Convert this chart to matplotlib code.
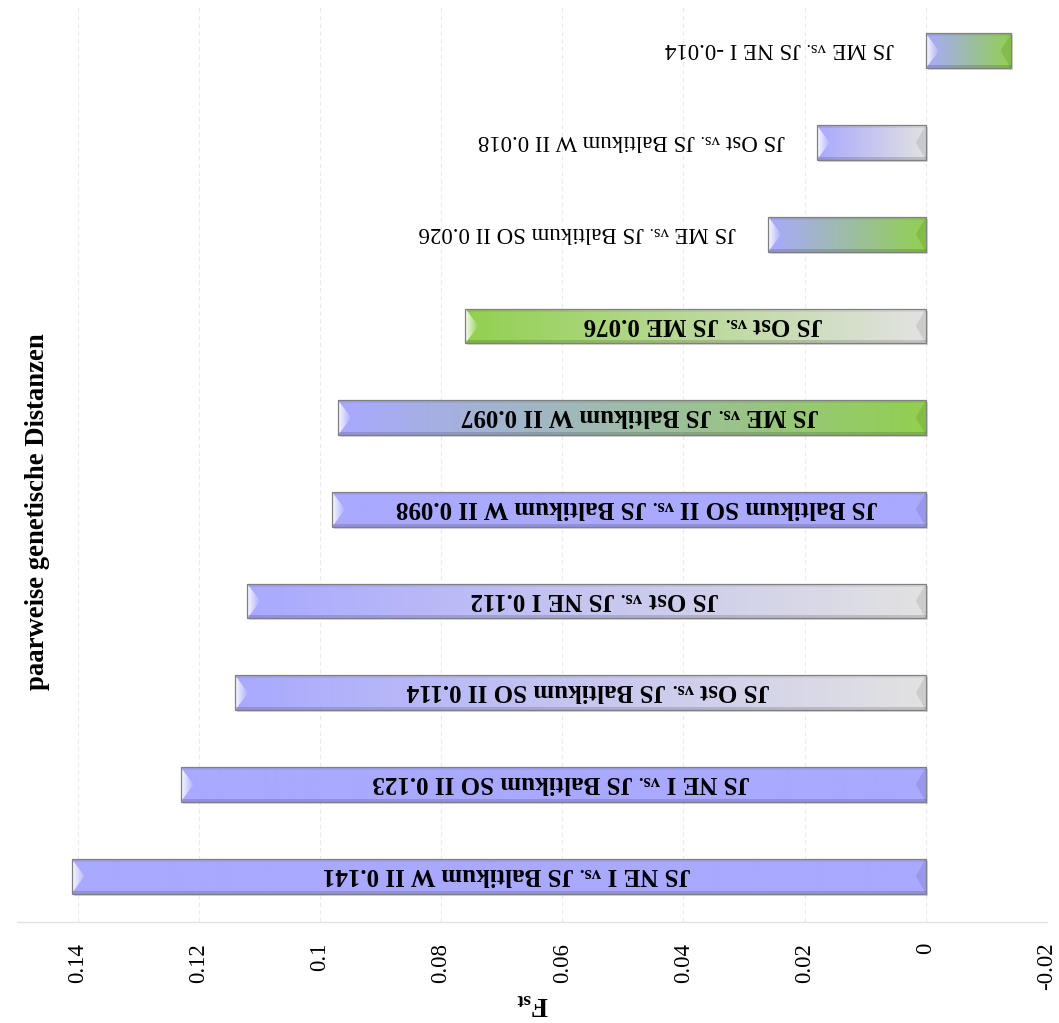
import numpy as np
import matplotlib
matplotlib.use("Agg")
import matplotlib.pyplot as plt
from matplotlib.patches import Rectangle, Polygon
from matplotlib.transforms import IdentityTransform
from matplotlib.colors import to_rgb

plt.rcParams['font.family'] = ['Liberation Serif', 'DejaVu Serif']
plt.rcParams['mathtext.fontset'] = 'custom'
plt.rcParams['mathtext.rm'] = 'Liberation Serif'
plt.rcParams['mathtext.bf'] = 'Liberation Serif:bold'

# Population pairs (bottom to top) and their pairwise Fst values
first_pop = ["JS NE I", "JS NE I", "JS Ost", "JS Ost", "JS Baltikum SO II",
             "JS ME", "JS Ost", "JS ME", "JS Ost", "JS ME"]
second_pop = ["JS Baltikum W II", "JS Baltikum SO II", "JS Baltikum SO II",
              "JS NE I", "JS Baltikum W II", "JS Baltikum W II", "JS ME",
              "JS Baltikum SO II", "JS Baltikum W II", "JS NE I"]
fst = [0.141, 0.123, 0.114, 0.112, 0.098, 0.097, 0.076, 0.026, 0.018, -0.014]

tick_values = [0.14, 0.12, 0.10, 0.08, 0.06, 0.04, 0.02, 0.0, -0.02]

title = "paarweise genetische Distanzen"

BLUE = to_rgb("#a9a9ff")
GREY = to_rgb("#e2e2e2")
GREEN = to_rgb("#92d050")
pop_color = {"JS Ost": GREY, "JS ME": GREEN}

W, H, DPI = 1059, 1023, 100
fig = plt.figure(figsize=(W / DPI, H / DPI), dpi=DPI)
fig.patch.set_facecolor("white")
ax_l, ax_r, ax_t, ax_b = 17, 1047, 5, 922
ax = fig.add_axes([ax_l / W, 1 - ax_b / H, (ax_r - ax_l) / W, (ax_b - ax_t) / H])

XMAX, XMIN = 0.15, -0.02
n = len(fst)
ax.set_xlim(XMAX, XMIN)
ax.set_ylim(-0.5, n - 0.5)

px_x = (XMAX - XMIN) / (ax_r - ax_l)
px_y = n / (ax_b - ax_t)

bar_h = 0.38
for i, v in enumerate(fst):
    c_right = pop_color.get(first_pop[i], BLUE)
    c_left = pop_color.get(second_pop[i], BLUE)
    xl, xr = max(v, 0.0), min(v, 0.0)       # display-left / display-right data x
    y0, y1 = i - bar_h / 2, i + bar_h / 2
    yc = i

    # soft shadow
    ax.add_patch(Rectangle((xr - 2 * px_x, y0 - 2 * px_y), xl - xr, y1 - y0,
                           facecolor=(0.55, 0.55, 0.55), alpha=0.35,
                           edgecolor="none", zorder=2))

    body = Rectangle((xr, y0), xl - xr, y1 - y0, facecolor="none",
                     edgecolor="none", zorder=3)
    ax.add_patch(body)
    ramp = np.linspace(0, 1, 256)[:, None]
    grad = (1 - ramp) * np.array(c_left) + ramp * np.array(c_right)
    im = ax.imshow(grad[None, :, :], extent=(xl, xr, y0, y1), aspect="auto",
                   interpolation="bilinear", zorder=3)
    im.set_clip_path(body)

    # bevel facets
    bw = 13 * px_x
    tb = 3 * px_y
    left_tri = Polygon([(xl, y0), (xl - bw, yc), (xl, y1)], closed=True,
                       facecolor="none", edgecolor="none", zorder=4)
    ax.add_patch(left_tri)
    a = np.linspace(0.95, 0.05, 64)
    hl = np.zeros((1, 64, 4))
    hl[0, :, :3] = 1.0
    hl[0, :, 3] = a
    im2 = ax.imshow(hl, extent=(xl, xl - bw, y0, y1), aspect="auto",
                    interpolation="bilinear", zorder=4)
    im2.set_clip_path(left_tri)

    ax.add_patch(Polygon([(xr, y0), (xr + 10 * px_x, yc), (xr, y1)], closed=True,
                         facecolor="black", alpha=0.09, edgecolor="none", zorder=4))
    ax.add_patch(Polygon([(xl, y1), (xr, y1), (xr, y1 - tb), (xl, y1 - tb)],
                         closed=True, facecolor="black", alpha=0.06,
                         edgecolor="none", zorder=4))
    ax.add_patch(Polygon([(xl, y0), (xr, y0), (xr, y0 + tb), (xl, y0 + tb)],
                         closed=True, facecolor="black", alpha=0.14,
                         edgecolor="none", zorder=4))
    ax.add_patch(Rectangle((xr, y0), xl - xr, y1 - y0, facecolor="none",
                           edgecolor=(0.5, 0.5, 0.5), linewidth=0.9, zorder=5))

# axes styling
ax.set_xticks(tick_values)
ax.set_xticklabels([f"{round(t, 2):g}" for t in tick_values], rotation=90,
                   fontsize=16.5)
ax.tick_params(axis="x", length=0, pad=15)
ax.set_yticks([])
ax.grid(axis="x", color="#ebebeb", linestyle=(0, (4, 3)), linewidth=0.8, zorder=0)
ax.set_axisbelow(True)
for s in ("top", "left", "right"):
    ax.spines[s].set_visible(False)
ax.spines["bottom"].set_color("#e3e3e3")
ax.spines["bottom"].set_linewidth(1.0)
ax.set_xlabel(r"$\mathbf{F_{st}}$", fontsize=20, rotation=180, labelpad=0)

fig.text(38 / W, 0.5, title, rotation=90, ha="center", va="center",
         fontsize=19.2, fontweight="bold")

# bar labels, drawn upside down piece by piece
renderer = fig.canvas.get_renderer()
ident = IdentityTransform()


def measure(s, size, weight):
    t = fig.text(0, 0, s, fontsize=size, fontweight=weight, transform=ident)
    w = t.get_window_extent(renderer).width
    t.remove()
    return w


def place_label(pieces, x_right, y_center, weight):
    main = pieces[0][1]
    size_px = main * DPI / 72
    gap = 0.25 * size_px
    base_y = y_center + 0.33 * size_px
    cur = x_right
    for s, size in pieces:
        fig.text(cur, base_y, s, fontsize=size, fontweight=weight,
                 rotation=180, rotation_mode="anchor", ha="left",
                 va="baseline", transform=ident, zorder=6)
        cur -= measure(s, size, weight) + gap


def label_pieces(i, size):
    return [(first_pop[i], size), ("vs.", size * 0.74),
            (f"{second_pop[i]} {fst[i]:.3f}", size)]


BOLD_SIZE, NORMAL_SIZE = 18, 16.5
for i, v in enumerate(fst):
    pieces = label_pieces(i, BOLD_SIZE)
    gap_px = 0.25 * BOLD_SIZE * DPI / 72
    total_bold = sum(measure(s, sz, "bold") for s, sz in pieces) + 2 * gap_px
    xl_disp = ax.transData.transform((max(v, 0.0), i))
    x0_disp = ax.transData.transform((0.0, i))
    bar_len = abs(x0_disp[0] - xl_disp[0])
    yc = xl_disp[1]
    if total_bold < bar_len - 30:
        xc = (xl_disp[0] + x0_disp[0]) / 2 + 8
        place_label(pieces, xc + total_bold / 2, yc, "bold")
    else:
        place_label(label_pieces(i, NORMAL_SIZE), xl_disp[0] - 32, yc, "normal")

fig.savefig("out.png", dpi=DPI, facecolor="white")
